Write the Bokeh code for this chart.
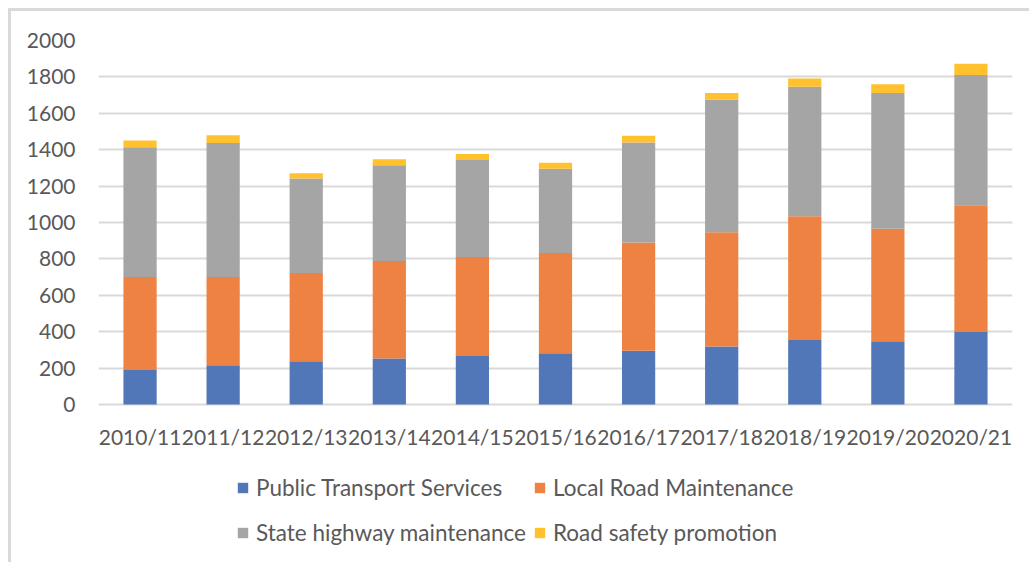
from bokeh.plotting import figure
from bokeh.models import FactorRange, FixedTicker, Legend, LegendItem
from bokeh.embed import file_html
from bokeh.resources import INLINE

years = ["2010/11", "2011/12", "2012/13", "2013/14", "2014/15", "2015/16",
         "2016/17", "2017/18", "2018/19", "2019/20", "2020/21"]
public_transport = [190, 216, 238, 253, 267, 282, 295, 319, 355, 348, 399]
local_road = [510, 484, 485, 535, 544, 551, 595, 628, 680, 617, 696]
state_highway = [714, 737, 519, 527, 533, 462, 550, 729, 711, 747, 716]
road_safety = [37, 43, 29, 33, 33, 33, 36, 36, 45, 48, 61]
series = ["Public Transport Services", "Local Road Maintenance",
          "State highway maintenance", "Road safety promotion"]
colors = ["#5177B8", "#EE8242", "#A5A5A5", "#FFC12E"]
y_ticks = [0, 200, 400, 600, 800, 1000, 1200, 1400, 1600, 1800, 2000]

FONT = "Lato"
TXT = "#595959"

data = dict(year=years, s0=public_transport, s1=local_road,
            s2=state_highway, s3=road_safety)

# frame spans from the top gridline to the canvas bottom; the area below zero
# holds the category labels and the legend
p = figure(width=1021, height=554, x_range=FactorRange(*years, range_padding=0),
           y_range=(-884.6, 2000), output_backend="svg", toolbar_location=None,
           min_border=0, min_border_left=87, min_border_right=20,
           min_border_top=29, min_border_bottom=0)
p.outline_line_color = None
p.background_fill_color = "white"
p.border_fill_color = "white"
p.styles = {"margin-left": "8px", "margin-top": "8px",
            "border-left": "3px solid #D9D9D9", "border-top": "3px solid #D9D9D9"}

rs = p.vbar_stack(["s0", "s1", "s2", "s3"], x="year", width=0.4,
                  color=colors, source=data, line_width=0)

p.xgrid.grid_line_color = None
p.ygrid.grid_line_color = "#D9D9D9"
p.ygrid.grid_line_width = 2
p.yaxis.ticker = FixedTicker(ticks=y_ticks)
p.xaxis.fixed_location = 0

for ax in (p.xaxis, p.yaxis):
    ax.axis_line_color = None
    ax.major_tick_line_color = None
    ax.minor_tick_line_color = None
    ax.major_tick_out = 0
    ax.major_tick_in = 0
    ax.major_label_text_font = FONT
    ax.major_label_text_font_size = "21px"
    ax.major_label_text_color = TXT
p.yaxis.major_label_standoff = 23
p.xaxis.major_label_standoff = 19

leg1 = Legend(items=[LegendItem(label=series[0], renderers=[rs[0]]),
                     LegendItem(label=series[1], renderers=[rs[1]])],
              orientation="horizontal", location=(138, 64))
leg2 = Legend(items=[LegendItem(label=series[2], renderers=[rs[2]]),
                     LegendItem(label=series[3], renderers=[rs[3]])],
              orientation="horizontal", location=(138, 19))
for lg in (leg1, leg2):
    lg.label_text_font = FONT
    lg.label_text_font_size = "22.5px"
    lg.label_text_color = TXT
    lg.glyph_width = 13
    lg.glyph_height = 13
    lg.label_height = 25
    lg.label_standoff = 7
    lg.label_width = 277
    lg.spacing = 0
    lg.padding = 0
    lg.margin = 0
    lg.border_line_color = None
    lg.background_fill_alpha = 0
    p.add_layout(lg, "center")

open("out.html", "w").write(file_html(p, INLINE))
